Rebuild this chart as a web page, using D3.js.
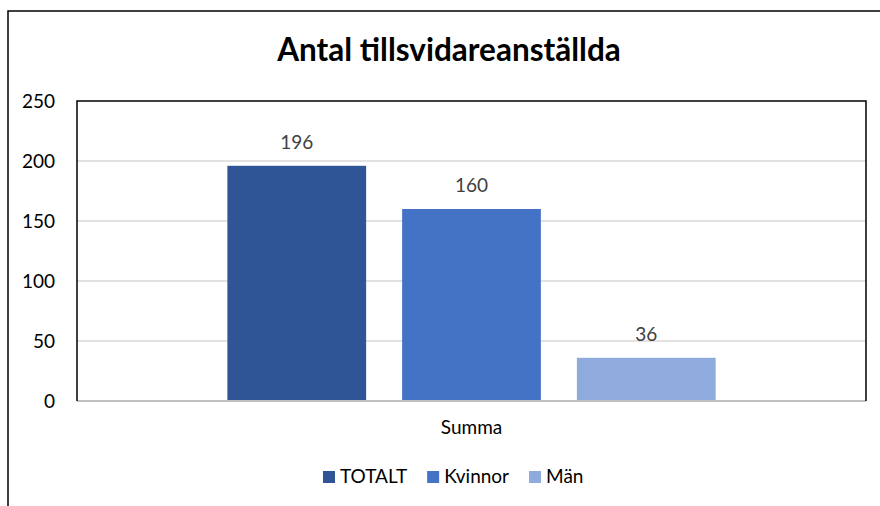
<!DOCTYPE html>
<html>
<head>
<meta charset="utf-8">
<script src="https://cdn.jsdelivr.net/npm/d3@7"></script>
<style>
  html, body { margin: 0; padding: 0; background: #fff; }
  svg { display: block; font-family: Lato, "Open Sans", sans-serif; }
</style>
</head>
<body>
<svg id="chart" width="880" height="506"></svg>
<script>
// data
const groups = ['Summa'];
const series = ['TOTALT', 'Kvinnor', 'Män'];
const values = [196, 160, 36];
const colors = ['#2F5597', '#4472C4', '#8FAADC'];
const yTicks = [0, 50, 100, 150, 200, 250];

const svg = d3.select('#chart');
const plot = { left: 77, top: 101, right: 866, bottom: 401 };

// outer chart frame (runs off the right and bottom edge)
svg.append('rect')
  .attr('x', 8).attr('y', 11)
  .attr('width', 900).attr('height', 520)
  .attr('fill', 'none').attr('stroke', '#000').attr('stroke-width', 1.5);

// title
svg.append('text')
  .attr('x', 449).attr('y', 61)
  .attr('text-anchor', 'middle')
  .attr('font-size', 31.5).attr('font-weight', 'bold')
  .attr('fill', '#000')
  .text('Antal tillsvidareanställda');

const y = d3.scaleLinear().domain([0, 250]).range([plot.bottom, plot.top]);
const x0 = d3.scaleBand().domain(groups)
  .range([plot.left, plot.right])
  .paddingInner(0).paddingOuter(0.308);
const x1 = d3.scaleBand().domain(series)
  .range([0, x0.bandwidth()])
  .paddingInner(0.206).paddingOuter(0);

// gridlines
svg.append('g')
  .selectAll('line')
  .data(yTicks.filter(t => t > 0 && t < 250))
  .join('line')
    .attr('x1', plot.left).attr('x2', plot.right)
    .attr('y1', d => y(d)).attr('y2', d => y(d))
    .attr('stroke', '#d9d9d9').attr('stroke-width', 1.3);

// y axis labels
const yAxis = svg.append('g')
  .attr('transform', `translate(${plot.left},0)`)
  .call(d3.axisLeft(y).tickValues(yTicks).tickSize(0).tickPadding(22));
yAxis.select('.domain').remove();
yAxis.selectAll('text')
  .attr('font-family', 'Lato, sans-serif')
  .attr('font-size', 19).attr('fill', '#000');

// bars
const bars = svg.append('g')
  .attr('transform', `translate(${x0('Summa')},0)`);
bars.selectAll('rect')
  .data(series)
  .join('rect')
    .attr('x', d => x1(d))
    .attr('width', x1.bandwidth())
    .attr('y', (d, i) => y(values[i]))
    .attr('height', (d, i) => y(0) - y(values[i]))
    .attr('fill', (d, i) => colors[i]);

// data labels
bars.selectAll('text')
  .data(series)
  .join('text')
    .attr('x', d => x1(d) + x1.bandwidth() / 2)
    .attr('y', (d, i) => y(values[i]) - 17)
    .attr('text-anchor', 'middle')
    .attr('font-size', 19).attr('fill', '#404040')
    .text((d, i) => values[i]);

// x axis line + category label
svg.append('line')
  .attr('x1', plot.left).attr('x2', plot.right)
  .attr('y1', y(0)).attr('y2', y(0))
  .attr('stroke', '#bfbfbf').attr('stroke-width', 2);

const xAxis = svg.append('g')
  .attr('transform', `translate(0,${plot.bottom})`)
  .call(d3.axisBottom(x0).tickSize(0).tickPadding(20));
xAxis.select('.domain').remove();
xAxis.selectAll('text')
  .attr('font-family', 'Lato, sans-serif')
  .attr('font-size', 19).attr('fill', '#000');

// plot area border (left, top, right)
svg.append('path')
  .attr('d', `M${plot.left},${plot.bottom}V${plot.top}H${plot.right}V${plot.bottom}`)
  .attr('fill', 'none').attr('stroke', '#000').attr('stroke-width', 1.5);

// legend
const legend = svg.append('g').attr('transform', 'translate(0,483)');
let lx = 323;
series.forEach((s, i) => {
  const item = legend.append('g').attr('transform', `translate(${lx},0)`);
  item.append('rect')
    .attr('x', 0).attr('y', -12)
    .attr('width', 12).attr('height', 12)
    .attr('fill', colors[i]);
  const t = item.append('text')
    .attr('x', 17).attr('y', 0)
    .attr('font-size', 19).attr('fill', '#000')
    .text(s);
  lx += 17 + t.node().getComputedTextLength() + 20;
});
</script>
</body>
</html>
